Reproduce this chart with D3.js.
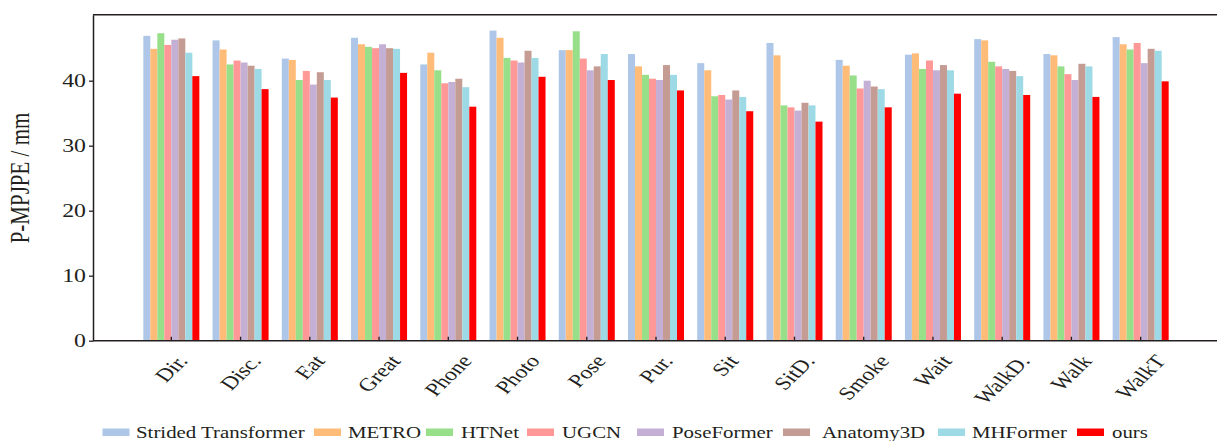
<!DOCTYPE html>
<html>
<head>
<meta charset="utf-8">
<script src="https://cdn.jsdelivr.net/npm/d3@7"></script>
<style>
  body { margin: 0; background: #fff; }
  svg { display: block; }
  text { font-family: "Liberation Serif", "Times New Roman", serif; fill: #231f20; }
</style>
</head>
<body>
<svg width="1217" height="441"></svg>
<script>
// actions on the x axis
var categories = ["Dir.", "Disc.", "Eat", "Great", "Phone", "Photo", "Pose", "Pur.", "Sit", "SitD.", "Smoke", "Wait", "WalkD.", "Walk", "WalkT"];

// P-MPJPE per method (mm)
var strided    = [46.9, 46.2, 43.4, 46.6, 42.5, 47.7, 44.7, 44.1, 42.7, 45.8, 43.2, 44.0, 46.4, 44.1, 46.7];
var metro      = [44.9, 44.8, 43.2, 45.6, 44.3, 46.6, 44.7, 42.2, 41.6, 43.9, 42.3, 44.2, 46.2, 43.9, 45.6];
var htnet      = [47.3, 42.5, 40.1, 45.2, 41.6, 43.5, 47.6, 40.9, 37.6, 36.2, 40.8, 41.8, 42.9, 42.2, 44.8];
var ugcn       = [45.5, 43.1, 41.5, 45.0, 39.6, 43.1, 43.4, 40.3, 37.8, 35.9, 38.8, 43.1, 42.2, 41.0, 45.8];
var poseformer = [46.3, 42.8, 39.4, 45.6, 39.8, 42.8, 41.6, 40.1, 37.1, 35.4, 40.0, 41.6, 41.8, 40.1, 42.7];
var anatomy3d  = [46.5, 42.3, 41.3, 45.0, 40.3, 44.6, 42.2, 42.4, 38.5, 36.6, 39.1, 42.4, 41.5, 42.6, 44.9];
var mhformer   = [44.3, 41.8, 40.1, 44.9, 39.0, 43.5, 44.1, 40.9, 37.5, 36.2, 38.7, 41.6, 40.7, 42.2, 44.6];
var ours       = [40.7, 38.7, 37.4, 41.2, 36.0, 40.6, 40.1, 38.5, 35.3, 33.7, 35.9, 38.0, 37.8, 37.5, 39.9];

var seriesNames = ["Strided Transformer", "METRO", "HTNet", "UGCN", "PoseFormer", "Anatomy3D", "MHFormer", "ours"];
var seriesValues = [strided, metro, htnet, ugcn, poseformer, anatomy3d, mhformer, ours];
var colors = ["#aec7e8", "#ffbb78", "#98df8a", "#ff9896", "#c5b0d5", "#c49c94", "#9edae5", "#ff0000"];
var yTicks = [0, 10, 20, 30, 40];

var sx = 1.28; // the figure is stretched horizontally
var svg = d3.select("svg");
var plotLeft = 93, plotTop = 14.7, plotBottom = 340.7, plotRight = 1217;

var x = d3.scaleBand().domain(categories).range([130.1, 1181.9]).padding(0.191);
var xs = d3.scaleBand().domain(seriesNames).range([0, x.bandwidth()]);
var y = d3.scaleLinear().domain([0, 50.15]).range([plotBottom, plotTop]);

// bars
var groups = svg.append("g").selectAll("g")
  .data(categories)
  .join("g")
  .attr("transform", function(d) { return "translate(" + x(d) + ",0)"; });

groups.selectAll("rect")
  .data(function(d, i) {
    return seriesNames.map(function(s, j) { return { s: s, v: seriesValues[j][i], c: colors[j] }; });
  })
  .join("rect")
  .attr("x", function(d) { return xs(d.s); })
  .attr("width", xs.bandwidth())
  .attr("y", function(d) { return y(d.v); })
  .attr("height", function(d) { return y(0) - y(d.v); })
  .attr("fill", function(d) { return d.c; });

// frame: left, top, bottom
svg.append("line").attr("x1", plotLeft).attr("x2", plotRight).attr("y1", plotTop).attr("y2", plotTop)
  .attr("stroke", "#231f20").attr("stroke-width", 1.5);

var xAxis = svg.append("g")
  .attr("transform", "translate(0," + plotBottom + ")")
  .call(d3.axisBottom(x).tickSizeInner(-4).tickSizeOuter(0).tickFormat(""));
xAxis.select(".domain").remove();
xAxis.selectAll("line").attr("stroke", "#231f20").attr("stroke-width", 1.3);
svg.append("line").attr("x1", plotLeft).attr("x2", plotRight).attr("y1", plotBottom).attr("y2", plotBottom)
  .attr("stroke", "#231f20").attr("stroke-width", 1.5);

var yAxis = svg.append("g")
  .attr("transform", "translate(" + plotLeft + ",0)")
  .call(d3.axisLeft(y).tickValues(yTicks).tickSize(4).tickSizeOuter(0).tickFormat(""));
yAxis.select(".domain").attr("stroke", "#231f20").attr("stroke-width", 1.5);
yAxis.selectAll("line").attr("stroke", "#231f20").attr("stroke-width", 1.3);

// y tick labels
yTicks.forEach(function(t) {
  svg.append("g")
    .attr("transform", "translate(86," + y(t) + ") scale(" + sx + ",1)")
    .append("text")
    .attr("text-anchor", "end")
    .attr("dy", "0.35em")
    .style("font-size", "18.6px")
    .text(t);
});

// y title
svg.append("g")
  .attr("transform", "translate(29,178) scale(" + sx + ",1) rotate(-90)")
  .append("text")
  .attr("text-anchor", "middle")
  .style("font-size", "21px")
  .text("P-MPJPE / mm");

// x tick labels, rotated, bbox centred on the tick
categories.forEach(function(c) {
  var cx = x(c) + x.bandwidth() / 2;
  var g = svg.append("g");
  g.append("text").attr("text-anchor", "middle").attr("dy", "0.35em")
    .style("font-size", "18.5px").text(c);
  var tf = function(px, py) {
    return "translate(" + px + "," + py + ") scale(" + sx + ",1) rotate(-51)";
  };
  g.attr("transform", tf(cx, 380));
  var r = g.node().getBoundingClientRect();
  var dx = cx - (r.left + r.right) / 2;
  var dy = 351 - r.top;
  g.attr("transform", tf(cx + dx, 380 + dy));
});

// legend (entries are spaced unevenly in the original)
var legendX = [102.5, 314, 426, 527, 637, 783, 938, 1077];
var legendTextGap = [33.5, 34, 35, 35, 35, 39, 34, 35];
seriesNames.forEach(function(s, i) {
  svg.append("rect")
    .attr("x", legendX[i]).attr("y", 428.5)
    .attr("width", 27).attr("height", 7.5)
    .attr("fill", colors[i]);
  svg.append("g")
    .attr("transform", "translate(" + (legendX[i] + legendTextGap[i]) + ",438.3) scale(" + sx + ",1)")
    .append("text").style("font-size", "16.3px").text(s);
});
</script>
</body>
</html>
